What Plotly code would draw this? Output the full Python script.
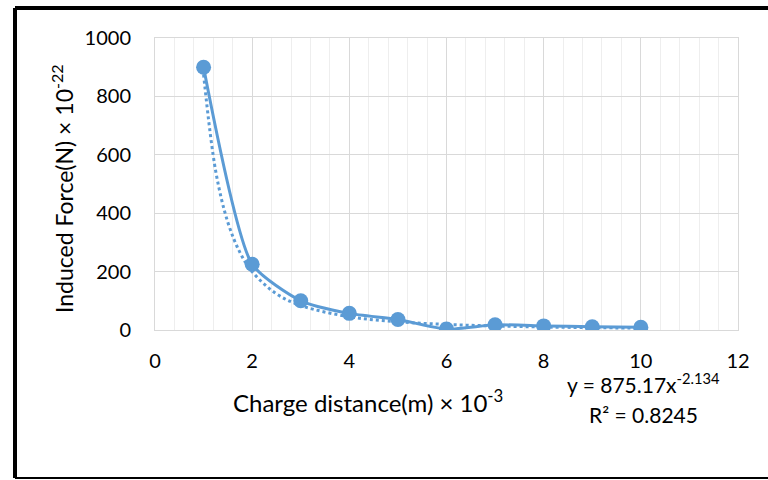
import plotly.graph_objects as go

distance = [1, 2, 3, 4, 5, 6, 7, 8, 9, 10]
force = [900, 225, 100, 57, 36, 3, 18, 14, 11, 9]

# Power trendline samples (from the chart's fitted equation y = 875.17x^-2.134)
trend_x = [1, 1.25, 1.5, 1.75, 2, 2.5, 3, 4, 5, 6, 7, 8, 9, 10]
trend_y = [875.2, 543.6, 368.4, 265.1, 199.4, 123.9, 83.9, 45.4, 28.2, 19.1, 13.8, 10.3, 8.05, 6.43]

x_ticks = [0, 2, 4, 6, 8, 10, 12]
y_ticks = [0, 200, 400, 600, 800, 1000]

blue = "#5B9BD5"
font = "Lato, 'Open Sans', sans-serif"

fig = go.Figure()
fig.add_trace(go.Scatter(x=trend_x, y=trend_y, mode="lines",
                         line=dict(color=blue, width=3, dash="dot", shape="spline"),
                         showlegend=False, hoverinfo="skip"))
fig.add_trace(go.Scatter(x=distance, y=force, mode="lines+markers",
                         line=dict(color=blue, width=3, shape="spline", smoothing=0.6),
                         marker=dict(color=blue, size=15),
                         showlegend=False))

W, H = 768, 480
# on-screen plot area: left 155, right 738, top 38, bottom 330
L, R, T, B = 155, W - 738, 38, H - 330
pw = W - L - R
ph = H - T - B

def px(x):
    return (x - L) / pw

def py(y):
    return (H - B - y) / ph

frame = dict(color="black", width=4)

fig.update_layout(
    width=W, height=H,
    margin=dict(l=L, r=R, t=T, b=B),
    paper_bgcolor="white", plot_bgcolor="white",
    font=dict(family=font, size=20, color="black"),
    xaxis=dict(range=[0, 12], tickvals=x_ticks, ticks="", showline=True,
               linecolor="#d9d9d9", linewidth=1, mirror=True,
               showgrid=True, gridcolor="#d9d9d9", gridwidth=1,
               minor=dict(dtick=0.4, showgrid=True, gridcolor="#eeeeee", gridwidth=1),
               zeroline=False, tickfont=dict(size=20), ticklabelstandoff=13),
    yaxis=dict(range=[0, 1000], tickvals=y_ticks, ticks="", showline=True,
               linecolor="#d9d9d9", linewidth=1, mirror=True,
               showgrid=True, gridcolor="#d9d9d9", gridwidth=1,
               zeroline=False, tickfont=dict(size=20), ticklabelstandoff=19),
    shapes=[
        dict(type="line", xref="paper", yref="paper", x0=px(15), x1=px(800), y0=py(8), y1=py(8), line=frame),
        dict(type="line", xref="paper", yref="paper", x0=px(15), x1=px(15), y0=py(8), y1=py(478), line=frame),
        dict(type="line", xref="paper", yref="paper", x0=px(15), x1=px(800), y0=py(478), y1=py(478),
             line=dict(color="black", width=2)),
    ],
    annotations=[
        dict(xref="paper", yref="paper", x=px(368), y=py(401), text="Charge distance(m) × 10<sup>-3</sup>",
             showarrow=False, font=dict(size=24), xanchor="center", yanchor="middle"),
        dict(xref="paper", yref="paper", x=px(62), y=py(189), text="Induced Force(N) × 10<sup>-22</sup>",
             showarrow=False, font=dict(size=23), textangle=-90, xanchor="center", yanchor="middle"),
        dict(xref="paper", yref="paper", x=px(643), y=py(383), text="y = 875.17x<sup>-2.134</sup>",
             showarrow=False, font=dict(size=21), xanchor="center", yanchor="middle"),
        dict(xref="paper", yref="paper", x=px(643), y=py(414), text="R² = 0.8245",
             showarrow=False, font=dict(size=21), xanchor="center", yanchor="middle"),
    ],
)

fig.write_html("out.html",
               config={"displayModeBar": False},
               post_script="document.body.style.margin='0';document.body.style.overflow='hidden';")
